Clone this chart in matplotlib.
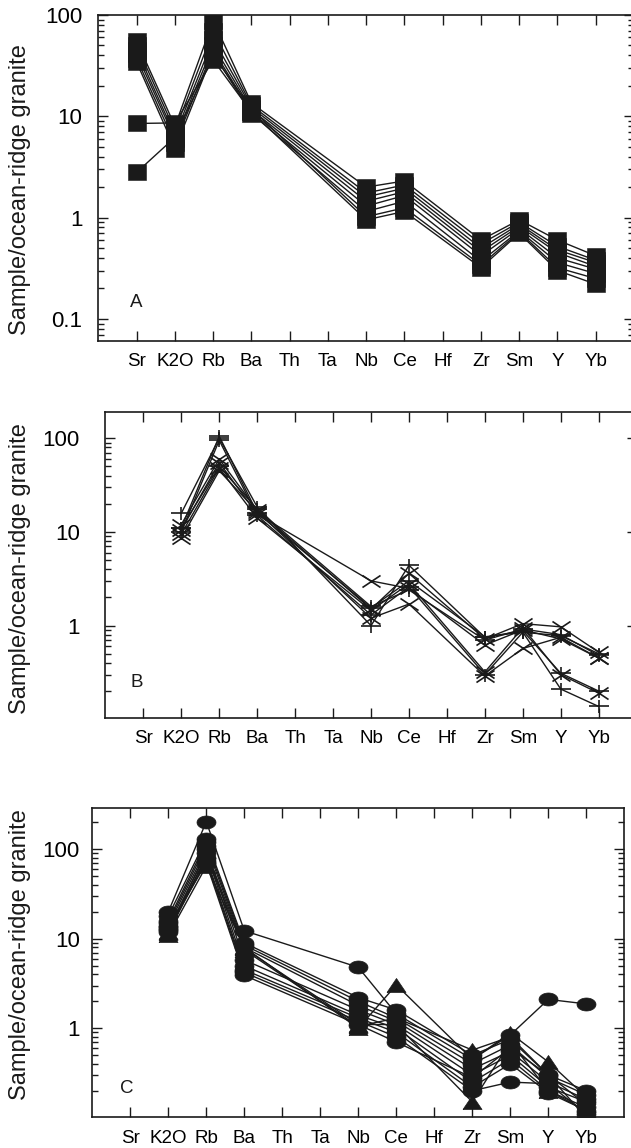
import numpy as np
import matplotlib
matplotlib.use("Agg")
import matplotlib.pyplot as plt
from matplotlib.path import Path
from matplotlib.ticker import FixedLocator, FixedFormatter, LogLocator, NullFormatter

plt.rcParams['font.family'] = ['Liberation Sans', 'DejaVu Sans']

# spider diagram, normalised to ocean-ridge granite
elements = ['Sr', 'K2O', 'Rb', 'Ba', 'Th', 'Ta', 'Nb', 'Ce', 'Hf', 'Zr', 'Sm', 'Y', 'Yb']

# panel A: Sr, K2O, Rb, Ba, Nb, Ce, Zr, Sm, Y, Yb
cols_a = ['Sr', 'K2O', 'Rb', 'Ba', 'Nb', 'Ce', 'Zr', 'Sm', 'Y', 'Yb']
samples_a = [
    [55, 8.0, 88, 13.5, 2.0, 2.3, 0.60, 0.95, 0.60, 0.42],
    [50, 7.2, 70, 12.8, 1.75, 2.1, 0.55, 0.90, 0.52, 0.38],
    [45, 6.5, 58, 12.2, 1.6, 1.95, 0.50, 0.86, 0.48, 0.36],
    [41, 6.0, 50, 11.6, 1.45, 1.8, 0.46, 0.82, 0.45, 0.33],
    [37, 5.4, 45, 11.0, 1.3, 1.65, 0.42, 0.78, 0.40, 0.31],
    [34, 4.8, 42, 10.6, 1.15, 1.45, 0.37, 0.74, 0.36, 0.28],
    [8.5, 8.6, 36, 11.0, 0.95, 1.15, 0.32, 0.70, 0.30, 0.22],
    [2.8, 6.2, 40, 11.8, 1.02, 1.25, 0.34, 0.72, 0.32, 0.25],
]

# panels B and C: K2O, Rb, Ba, Nb, Ce, Zr, Sm, Y, Yb
cols_bc = ['K2O', 'Rb', 'Ba', 'Nb', 'Ce', 'Zr', 'Sm', 'Y', 'Yb']
samples_b = [
    [15.8, 100, 18.5, 1.0, 4.4, 0.75, 0.88, 0.31, 0.20],
    [12.0, 60, 17.0, 1.5, 3.6, 0.72, 1.05, 0.97, 0.52],
    [11.0, 105, 16.0, 1.55, 3.0, 0.76, 0.85, 0.78, 0.50],
    [10.5, 55, 15.5, 3.0, 2.5, 0.62, 0.90, 0.72, 0.45],
    [10.0, 95, 15.0, 1.3, 2.6, 0.30, 0.85, 0.21, 0.137],
    [9.5, 48, 14.0, 1.45, 2.8, 0.32, 0.95, 0.30, 0.19],
    [8.6, 45, 16.5, 1.2, 1.7, 0.29, 0.57, 0.75, 0.45],
    [11.0, 50, 17.5, 1.6, 2.4, 0.70, 0.92, 0.80, 0.48],
]
markers_b = ['+', 'x', '+', 'x', '+', 'x', 'x', '+']

samples_c = [
    [20, 204, 12.3, 4.8, 1.45, 0.45, 0.84, 2.1, 1.87],
    [18, 130, 9.0, 2.2, 1.6, 0.50, 0.75, 0.30, 0.20],
    [16, 120, 8.5, 2.0, 1.3, 0.40, 0.65, 0.28, 0.18],
    [15, 110, 8.0, 1.8, 1.2, 0.35, 0.55, 0.25, 0.16],
    [14, 100, 5.8, 1.6, 1.1, 0.30, 0.50, 0.22, 0.15],
    [13, 90, 5.0, 1.4, 1.0, 0.25, 0.45, 0.20, 0.13],
    [12.5, 80, 4.5, 1.3, 0.9, 0.22, 0.40, 0.19, 0.12],
    [12, 75, 4.2, 1.2, 0.8, 0.20, 0.25, 0.24, 0.11],
    [13.5, 70, 3.9, 1.1, 0.7, 0.28, 0.60, 0.30, 0.10],
    [11, 65, 8.0, 1.0, 3.05, 0.45, 0.88, 0.42, 0.17],
    [11.5, 85, 7.5, 1.05, 1.3, 0.57, 0.80, 0.30, 0.14],
    [12, 95, 7.8, 1.1, 1.1, 0.15, 0.70, 0.20, 0.12],
]
markers_c = ['o'] * 9 + ['^'] * 3

ink = '#1a1a1a'

# the original symbols are a bit wider than tall
square = [(-8.5, -7.5), (8.5, -7.5), (8.5, 7.5), (-8.5, 7.5), (-8.5, -7.5)]
t = np.linspace(0, 2 * np.pi, 41)
ellipse = list(zip(9.5 * np.cos(t), 6.5 * np.sin(t)))
triangle = [(-9.5, -7), (9.5, -7), (0, 7), (-9.5, -7)]
plus = Path([(-10, 0), (10, 0), (0, -6.5), (0, 6.5)], [1, 2, 1, 2])
cross = Path([(-9, -6), (9, 6), (-9, 6), (9, -6)], [1, 2, 1, 2])

marker_style = {
    's': dict(marker=square, ms=12.4, mfc=ink, mec=ink, mew=0.4),
    'o': dict(marker=ellipse, ms=13.7, mfc=ink, mec=ink, mew=0.5),
    '^': dict(marker=triangle, ms=13.7, mfc=ink, mec=ink, mew=0.5),
    '+': dict(marker=plus, ms=14.4, mfc='none', mec=ink, mew=1.2),
    'x': dict(marker=cross, ms=13.0, mfc='none', mec=ink, mew=1.2),
}

W, H = 631, 1148
fig = plt.figure(figsize=(W / 100, H / 100), dpi=100)


def make_axes(left, top, right, bottom, xlim, ylim, ticks, pad_y):
    ax = fig.add_axes([left / W, 1 - bottom / H, (right - left) / W, (bottom - top) / H])
    ax.set_yscale('log')
    ax.set_xlim(*xlim)
    ax.set_ylim(*ylim)
    ax.set_xticks(range(len(elements)))
    ax.set_xticklabels(elements, fontsize=13.5)
    ax.yaxis.set_major_locator(FixedLocator(ticks))
    ax.yaxis.set_major_formatter(FixedFormatter([('%g' % v) for v in ticks]))
    ax.yaxis.set_minor_locator(LogLocator(base=10, subs=np.arange(2, 10), numticks=20))
    ax.yaxis.set_minor_formatter(NullFormatter())
    ax.tick_params(which='both', direction='in', top=True, right=True, color=ink, width=1)
    ax.tick_params(which='major', length=7)
    ax.tick_params(which='minor', length=4.5)
    ax.tick_params(axis='x', which='minor', top=False, bottom=False)
    ax.tick_params(axis='x', pad=9)
    ax.tick_params(axis='y', labelsize=16, pad=pad_y)
    for s in ax.spines.values():
        s.set_linewidth(1.2)
        s.set_color(ink)
    return ax


def draw(ax, cols, samples, kinds):
    xs = [elements.index(c) for c in cols]
    for vals, k in zip(samples, kinds):
        ax.plot(xs, vals, color=ink, lw=1.0, **marker_style[k])


# panel A
axA = make_axes(97.7, 15, 634, 341, (-1.02, 13), (0.0605, 100), [0.1, 1, 10, 100], 11)
draw(axA, cols_a, samples_a, ['s'] * len(samples_a))
axA.text(0, 0.145, 'A', fontsize=13.5, ha='center', va='center', color=ink)

# panel B
axB = make_axes(105, 411.7, 636.7, 717.7, (-1.01, 13), (0.104, 192), [1, 10, 100], 18)
draw(axB, cols_bc, samples_b, markers_b)
axB.text(-0.17, 0.25, 'B', fontsize=13.5, ha='center', va='center', color=ink)

# panel C
axC = make_axes(92.3, 807.7, 624.3, 1117.3, (-1, 13), (0.101, 292), [1, 10, 100], 9)
draw(axC, cols_bc, samples_c, markers_c)
axC.text(-0.09, 0.21, 'C', fontsize=13.5, ha='center', va='center', color=ink)

for yc in (190, 569, 955):
    fig.text(20 / W, 1 - yc / H, 'Sample/ocean-ridge granite', rotation=90,
             ha='center', va='center', fontsize=17, color=ink)

fig.savefig('out.png', dpi=100)
